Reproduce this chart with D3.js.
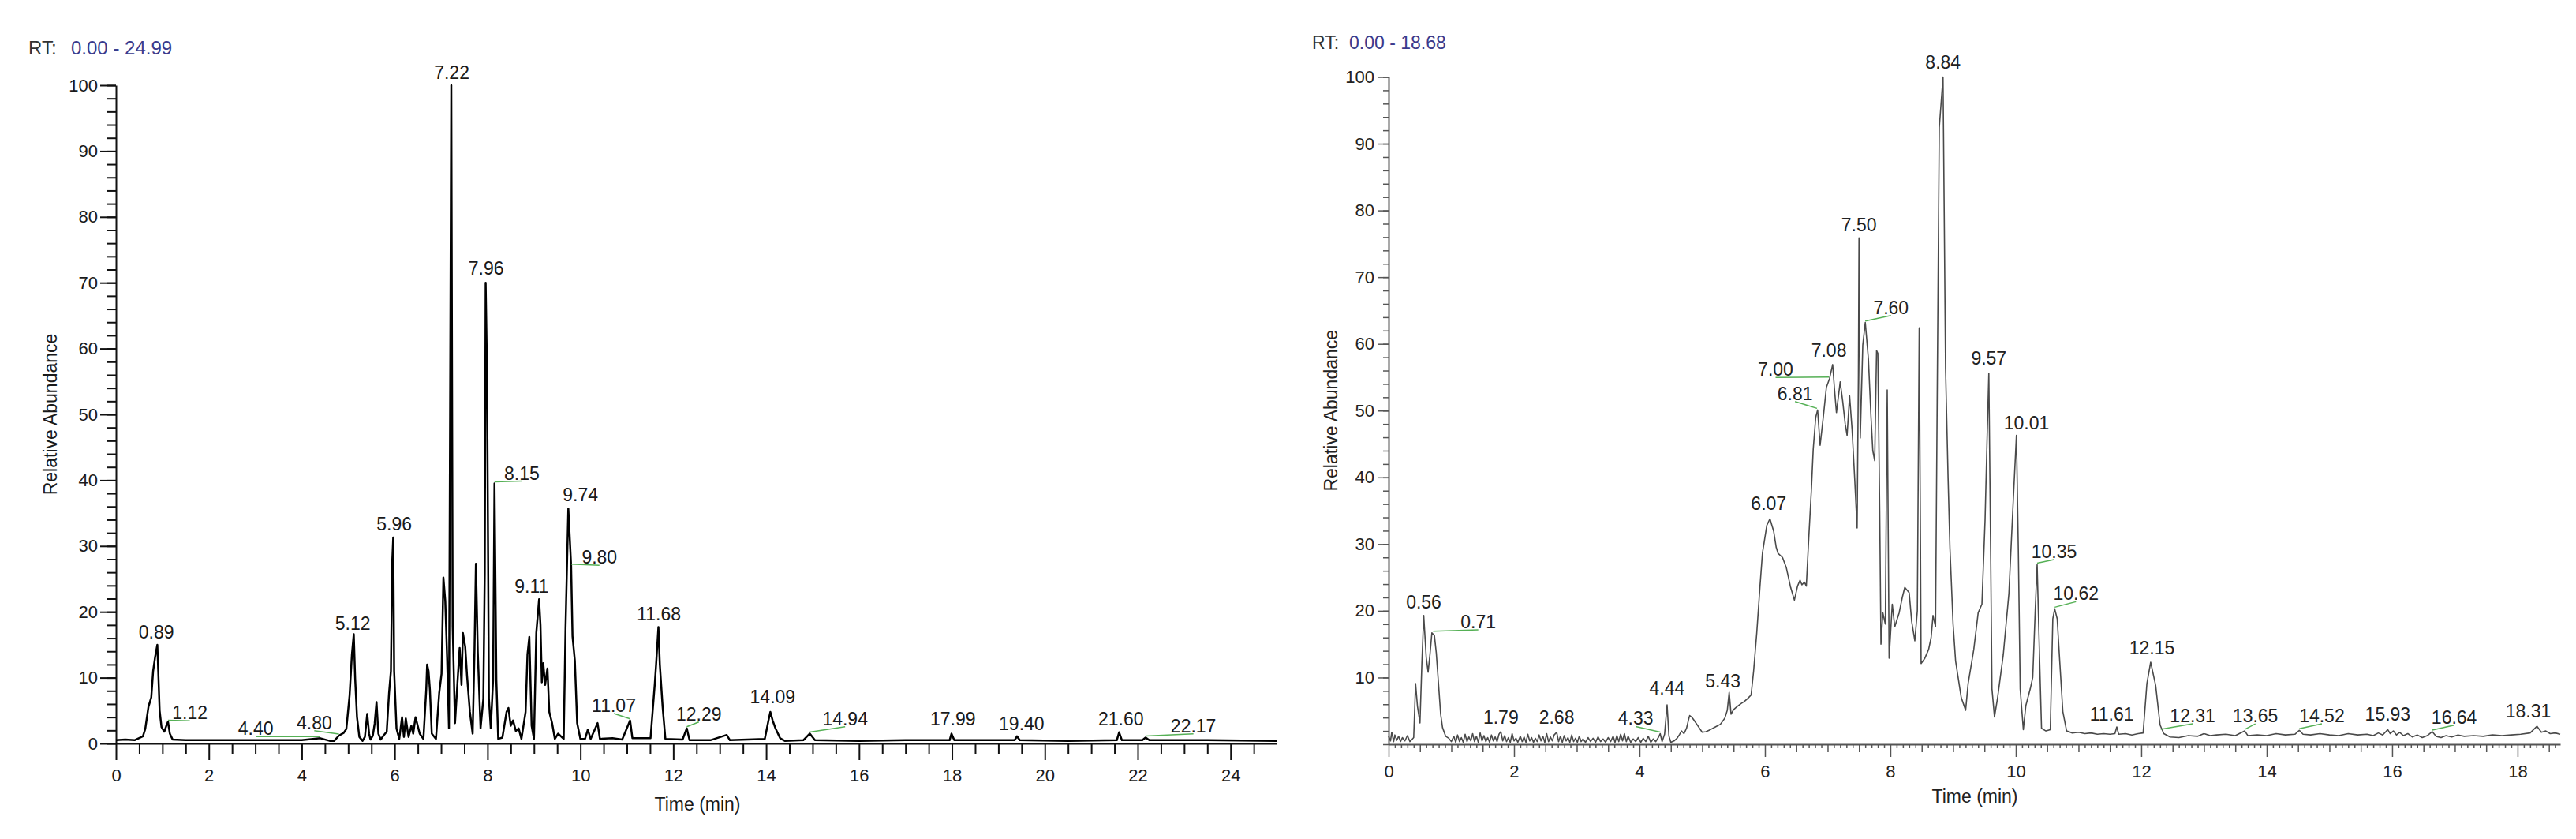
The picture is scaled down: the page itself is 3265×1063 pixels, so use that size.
<!DOCTYPE html>
<html>
<head>
<meta charset="utf-8">
<script src="https://cdn.jsdelivr.net/npm/d3@7"></script>
<style>
  body { margin: 0; background: #ffffff; }
  svg { display: block; }
</style>
</head>
<body>
<svg id="c" width="3265" height="1063"></svg>
<script>
// ---------------- DATA ----------------
// Left chromatogram (RT 0.00 - 24.99)
const leftRange = "0.00 - 24.99";
const leftTime = [0.00,0.20,0.40,0.58,0.63,0.70,0.76,0.80,0.84,0.89,0.91,0.94,0.98,1.04,1.08,1.12,1.16,1.22,1.5,2.0,2.5,3.0,3.5,4.0,4.40,4.6,4.70,4.80,4.90,4.96,5.03,5.08,5.12,5.15,5.19,5.24,5.31,5.36,5.41,5.45,5.48,5.53,5.57,5.61,5.65,5.70,5.76,5.83,5.88,5.92,5.95,5.97,5.99,6.04,6.10,6.16,6.20,6.24,6.30,6.36,6.40,6.45,6.54,6.62,6.68,6.70,6.73,6.76,6.80,6.89,6.96,7.01,7.05,7.09,7.13,7.17,7.22,7.25,7.30,7.35,7.40,7.44,7.47,7.52,7.56,7.62,7.68,7.72,7.75,7.79,7.85,7.91,7.94,7.96,7.99,8.03,8.07,8.12,8.15,8.19,8.23,8.32,8.41,8.45,8.50,8.55,8.61,8.67,8.73,8.82,8.86,8.90,8.95,9.00,9.05,9.11,9.14,9.17,9.20,9.24,9.29,9.33,9.39,9.45,9.52,9.64,9.68,9.74,9.80,9.83,9.88,9.93,10.00,10.10,10.16,10.22,10.37,10.42,10.69,10.90,11.07,11.12,11.51,11.60,11.63,11.68,11.71,11.77,11.83,12.20,12.29,12.35,12.80,13.15,13.22,13.97,14.05,14.09,14.14,14.20,14.30,14.40,14.80,14.94,15.05,16.00,17.00,17.95,17.99,18.05,19.35,19.40,19.46,20.50,21.55,21.60,21.66,22.10,22.17,22.25,23.50,24.99];
const leftAbund = [0.5,0.6,0.5,1.1,2.2,5.6,7.0,11.0,13.0,15.0,11.0,5.0,2.5,1.8,2.6,3.3,1.5,0.6,0.5,0.5,0.5,0.5,0.5,0.5,0.8,0.4,0.4,1.2,1.6,2.2,7.3,13.5,16.6,9.9,4.0,1.0,0.4,1.0,4.5,1.5,0.6,1.2,3.0,6.3,1.5,0.6,1.2,1.8,7.7,11.0,27.9,31.3,11.0,2.3,0.7,4.0,1.0,3.8,1.0,2.7,1.5,4.0,1.5,0.7,8.1,12.0,11.0,8.1,1.5,0.7,7.7,10.6,25.2,21.7,13.0,2.3,100,17.8,3.1,8.9,14.5,8.9,16.8,14.7,10.2,4.8,1.5,14.3,27.3,13.9,2.3,6.8,25.8,70,56,6.8,2.3,9.7,39.5,9.7,0.7,0.9,4.8,5.4,2.7,3.5,1.9,2.3,0.7,4.8,13.5,16.2,2.7,0.7,16.8,21.9,18.0,9.3,12.2,8.9,11.4,4.8,3.1,0.7,1.5,0.7,17.6,35.7,27.0,16.3,12.6,3.1,0.7,0.7,2.1,0.7,3.1,0.7,0.8,0.6,3.5,0.8,0.8,8.9,12.0,17.7,12.0,5.6,0.7,0.6,2.3,0.5,0.5,1.3,0.5,0.7,3.5,4.8,3.5,2.3,0.8,0.4,0.5,1.5,0.5,0.4,0.5,0.5,1.5,0.5,0.5,1.1,0.5,0.4,0.5,1.7,0.5,0.5,0.9,0.5,0.5,0.4];

// Left peak annotations: label, apex time, apex abundance, label time, label abundance, leader line?
const leftPeakText  = ["0.89","1.12","4.40","4.80","5.12","5.96","7.22","7.96","8.15","9.11","9.74","9.80","11.07","11.68","12.29","14.09","14.94","17.99","19.40","21.60","22.17"];
const leftPeakT     = [0.89,1.12,4.40,4.80,5.12,5.97,7.22,7.96,8.15,9.11,9.74,9.80,11.07,11.68,12.29,14.09,14.94,17.99,19.40,21.60,22.17];
const leftPeakV     = [15.0,3.3,0.8,1.2,16.6,31.3,100,70,39.5,21.9,35.7,27.0,3.5,17.7,2.3,4.8,1.5,1.5,1.1,1.7,0.9];
const leftLabelT    = [0.87,1.59,3.01,4.27,5.10,5.99,7.23,7.97,8.74,8.95,10.00,10.41,10.72,11.69,12.55,14.14,15.70,18.02,19.50,21.64,23.20];
const leftLabelV    = [16.0,3.7,1.3,2.2,17.3,32.4,101,71.2,40.1,22.9,36.8,27.3,4.8,18.7,3.5,6.1,2.8,2.7,2.0,2.8,1.7];
const leftLeader    = [false,true,true,true,false,false,false,false,true,false,false,true,true,false,true,false,true,false,false,false,true];

// Right chromatogram (RT 0.00 - 18.68)
const rightRange = "0.00 - 18.68";
const rightTime = [0.00,0.03,0.05,0.08,0.10,0.13,0.16,0.19,0.22,0.26,0.30,0.34,0.38,0.40,0.43,0.46,0.50,0.53,0.56,0.60,0.63,0.66,0.69,0.73,0.76,0.79,0.83,0.86,0.91,0.96,1.00,
  1.04,1.07,1.10,1.13,1.16,1.19,1.22,1.25,1.28,1.31,1.34,1.37,1.40,1.43,1.46,1.49,1.52,1.55,1.58,1.61,1.64,1.67,1.70,1.73,1.76,1.79,1.82,1.85,1.88,1.91,1.94,1.97,2.00,2.03,2.06,2.10,2.13,2.16,2.19,2.22,2.25,2.28,2.31,2.34,2.37,2.40,2.43,2.46,2.49,2.52,2.55,2.58,2.61,2.64,2.68,2.71,2.74,2.77,2.80,2.83,2.86,2.89,2.92,2.95,2.98,3.01,3.04,3.07,3.10,3.14,3.18,3.22,3.26,3.30,3.34,3.38,3.42,3.46,3.50,3.54,3.58,3.61,3.64,3.67,3.70,3.73,3.76,3.79,3.82,3.86,3.90,3.94,3.98,4.02,4.06,4.10,4.14,4.18,4.22,4.26,4.30,4.33,4.36,4.40,4.44,4.47,4.50,4.55,4.60,4.64,4.67,4.71,4.75,4.78,4.80,4.84,4.87,4.90,4.95,5.00,5.06,5.13,5.21,5.29,5.36,5.40,5.43,5.46,5.50,5.55,5.62,5.67,5.73,5.78,5.82,5.87,5.92,5.96,6.03,6.08,6.14,6.18,6.21,6.28,6.34,6.41,6.47,6.52,6.56,6.59,6.63,6.66,6.70,6.74,6.77,6.81,6.84,6.88,6.93,6.98,7.03,7.08,7.11,7.14,7.20,7.24,7.28,7.31,7.35,7.39,7.43,7.47,7.49,7.50,7.52,7.56,7.60,7.65,7.69,7.72,7.75,7.78,7.80,7.83,7.85,7.88,7.92,7.95,7.98,8.03,8.07,8.14,8.19,8.23,8.30,8.34,8.39,8.43,8.46,8.48,8.49,8.55,8.61,8.65,8.68,8.72,8.75,8.78,8.84,8.88,8.92,8.95,9.00,9.04,9.13,9.20,9.24,9.33,9.40,9.46,9.51,9.54,9.57,9.60,9.62,9.66,9.71,9.80,9.89,9.96,10.01,10.04,10.07,10.12,10.16,10.23,10.27,10.31,10.34,10.38,10.41,10.48,10.55,10.59,10.62,10.66,10.70,10.75,10.81,10.90,11.00,11.10,11.20,11.30,11.40,11.50,11.58,11.61,11.64,11.75,11.85,11.95,12.03,12.09,12.15,12.23,12.30,12.36,12.46,12.60,12.75,12.90,13.00,13.10,13.20,13.35,13.50,13.65,13.70,13.85,14.00,14.15,14.30,14.45,14.52,14.58,14.70,14.85,15.00,15.15,15.30,15.45,15.60,15.70,15.78,15.85,15.90,15.93,15.97,16.02,16.07,16.12,16.18,16.25,16.32,16.40,16.48,16.56,16.64,16.70,16.78,16.86,16.95,17.05,17.15,17.30,17.45,17.60,17.75,17.90,18.05,18.20,18.31,18.38,18.45,18.52,18.60,18.68];
const rightAbund = [1.2,0.5,1.8,0.4,1.4,0.6,1.2,0.4,1.0,0.5,1.3,0.4,0.8,1.0,9.1,5.7,3.2,12.0,19.3,13.0,10.8,13.5,16.7,16.3,13.7,9.8,4.5,2.5,1.2,0.9,0.4,
  1.2,0.3,1.4,0.4,1.0,0.3,1.5,0.4,1.1,0.5,1.6,0.4,1.2,0.3,1.7,0.5,1.3,0.4,1.0,0.3,1.4,0.5,1.1,0.4,1.5,1.9,0.5,1.3,0.4,1.0,0.3,1.6,0.5,0.9,0.3,1.2,0.4,1.1,0.3,1.5,0.5,1.0,0.3,0.9,0.4,1.4,0.5,1.2,0.3,1.6,0.4,1.1,0.5,1.4,1.8,0.4,1.2,0.3,1.3,0.5,1.0,0.3,1.4,0.4,0.9,0.3,1.2,0.4,0.8,0.3,1.0,0.4,0.9,0.3,1.1,0.4,0.8,0.3,1.0,0.4,1.2,0.3,1.3,0.4,1.5,0.5,1.6,0.4,1.2,0.3,0.8,0.4,1.0,0.3,0.9,0.4,1.2,0.3,0.8,0.4,1.0,1.6,0.4,1.5,5.9,1.2,0.3,0.5,0.9,1.5,2.0,1.6,2.4,3.6,4.3,4.0,3.6,3.2,2.5,1.8,1.9,2.2,2.6,3.0,3.9,5.1,7.8,4.5,5.2,5.6,6.1,6.4,6.9,7.4,11.0,16.7,23.5,28.6,32.8,33.8,31.9,29.5,28.6,28.0,26.5,23.5,21.6,23.7,24.6,23.9,24.3,23.7,31.1,38.0,44.2,49.0,50.1,44.8,49.0,53.5,54.8,56.9,53.1,49.7,54.3,51.4,48.0,46.3,52.2,47.1,40.0,32.4,55.0,75.9,45.9,59.8,63.2,57.7,49.3,44.0,42.5,59.0,58.6,35.0,15.0,19.7,18.0,53.1,12.9,21.0,17.6,19.7,22.0,23.5,22.7,18.4,15.5,20.0,62.4,30.0,12.1,12.9,14.2,16.0,19.3,17.6,56.0,92.4,100.0,56.4,40.0,29.4,18.0,12.5,7.0,5.1,9.1,14.2,19.7,21.0,33.6,45.0,55.6,27.7,8.3,4.1,7.0,13.4,22.6,36.6,46.3,29.4,8.3,2.2,5.8,8.3,10.0,20.1,26.9,12.5,2.4,2.0,2.2,18.8,20.3,18.8,12.5,4.9,2.0,1.7,1.8,1.6,1.7,1.5,1.6,1.5,1.6,2.6,1.5,1.6,1.4,1.6,1.7,9.1,12.3,8.8,2.9,1.6,1.1,1.0,1.3,1.2,1.6,1.3,1.4,1.5,1.3,2.0,1.3,1.4,1.3,1.6,1.4,1.5,2.1,1.5,1.4,1.6,1.4,1.3,1.6,1.4,1.5,1.3,1.7,1.4,1.9,2.2,1.6,2.0,1.4,1.8,1.3,1.6,1.1,1.4,1.0,1.3,1.9,1.2,1.0,1.3,1.1,1.4,1.2,1.3,1.2,1.4,1.3,1.4,1.5,1.7,2.7,1.8,2.0,1.6,1.7,1.5];

const rightPeakText = ["0.56","0.71","1.79","2.68","4.33","4.44","5.43","6.07","6.81","7.00","7.08","7.50","7.60","8.84","9.57","10.01","10.35","10.62","11.61","12.15","12.31","13.65","14.52","15.93","16.64","18.31"];
const rightPeakT    = [0.56,0.71,1.79,2.68,4.33,4.44,5.43,6.07,6.83,7.02,7.08,7.50,7.60,8.84,9.57,10.01,10.34,10.62,11.61,12.15,12.31,13.65,14.52,15.93,16.64,18.31];
const rightPeakV    = [19.3,16.7,1.9,1.8,1.6,5.9,7.8,33.8,50.1,54.8,56.9,75.9,63.2,100,55.6,46.3,26.9,20.3,2.6,12.3,2.0,2.0,2.1,2.2,1.9,2.7];
const rightLabelT   = [0.56,1.43,1.79,2.68,3.94,4.44,5.33,6.06,6.48,6.17,7.02,7.50,8.01,8.84,9.57,10.17,10.61,10.96,11.53,12.17,12.82,13.82,14.88,15.93,16.99,18.17];
const rightLabelV   = [20.3,17.4,3.1,3.1,2.9,7.4,8.5,35.1,51.6,55.2,58.1,76.9,64.5,101.2,56.9,47.2,27.9,21.6,3.6,13.5,3.3,3.3,3.3,3.6,3.1,4.0];
const rightLeader   = [false,true,false,false,true,false,false,false,true,true,false,false,true,false,false,false,true,true,false,false,true,true,true,false,true,false];

const yTitle = "Relative Abundance";
const xTitle = "Time (min)";
const leftXTicks  = [0,2,4,6,8,10,12,14,16,18,20,22,24];
const rightXTicks = [0,2,4,6,8,10,12,14,16,18];
const leftYTicks  = [0,10,20,30,40,50,60,70,80,90,100];
const rightYTicks = [10,20,30,40,50,60,70,80,90,100];

// ---------------- DRAWING ----------------
const FONT = "'Liberation Sans', Arial, Helvetica, sans-serif";
const svg = d3.select("#c");

function drawChart(c) {
  const x = d3.scaleLinear().domain(c.xDomain).range(c.xRange);
  const y = d3.scaleLinear().domain([0, 100]).range(c.yRange);
  const g = svg.append("g");
  const base = c.yRange[0];

  // RT header
  g.append("text").attr("x", c.rtX).attr("y", c.rtY)
    .attr("font-family", FONT).attr("font-size", c.rtSize).attr("fill", "#333")
    .text("RT:");
  g.append("text").attr("x", c.rtX2).attr("y", c.rtY)
    .attr("font-family", FONT).attr("font-size", c.rtSize).attr("fill", "#3a3a8c")
    .text(c.range);

  // minor x ticks
  g.append("g").attr("transform", `translate(0,${base})`)
    .call(d3.axisBottom(x).tickValues(c.xMinor).tickFormat("").tickSize(c.xMinorLen).tickSizeOuter(0))
    .call(s => s.select(".domain").remove())
    .call(s => s.selectAll("line").attr("stroke", c.axisColor).attr("stroke-width", c.tickW));
  if (c.xMid) {
    g.append("g").attr("transform", `translate(0,${base})`)
      .call(d3.axisBottom(x).tickValues(c.xMid).tickFormat("").tickSize(c.xMidLen).tickSizeOuter(0))
      .call(s => s.select(".domain").remove())
      .call(s => s.selectAll("line").attr("stroke", c.axisColor).attr("stroke-width", c.tickW));
  }
  // major x axis
  g.append("g").attr("transform", `translate(0,${base})`)
    .call(d3.axisBottom(x).tickValues(c.xTicks).tickFormat(d3.format("d")).tickSize(c.xMajorLen).tickPadding(c.xPad).tickSizeOuter(0))
    .call(s => s.select(".domain").attr("stroke", c.axisColor).attr("stroke-width", c.axisW))
    .call(s => s.selectAll("line").attr("stroke", c.axisColor).attr("stroke-width", c.tickW))
    .call(s => s.selectAll("text").attr("font-family", FONT).attr("font-size", c.tickSize).attr("fill", c.textColor));

  // y minor ticks
  g.append("g").attr("transform", `translate(${c.xRange[0]},0)`)
    .call(d3.axisLeft(y).tickValues(d3.range(0, 51).map(i => i * 2)).tickFormat("").tickSize(c.yMinorLen).tickSizeOuter(0))
    .call(s => s.select(".domain").remove())
    .call(s => s.selectAll("line").attr("stroke", c.axisColor).attr("stroke-width", c.tickW));
  // y major
  g.append("g").attr("transform", `translate(${c.xRange[0]},0)`)
    .call(d3.axisLeft(y).tickValues(c.yTicks).tickFormat(d3.format("d")).tickSize(c.yMajorLen).tickPadding(c.yPad).tickSizeOuter(0))
    .call(s => s.select(".domain").attr("stroke", c.axisColor).attr("stroke-width", c.axisW))
    .call(s => s.selectAll("line").attr("stroke", c.axisColor).attr("stroke-width", c.tickW))
    .call(s => s.selectAll("text").attr("font-family", FONT).attr("font-size", c.tickSize).attr("fill", c.textColor));

  // axis titles
  g.append("text")
    .attr("transform", `translate(${c.yTitleX},${(c.yRange[0] + c.yRange[1]) / 2}) rotate(-90)`)
    .attr("text-anchor", "middle").attr("dy", "0.35em")
    .attr("font-family", FONT).attr("font-size", c.titleSize).attr("fill", c.textColor)
    .text(yTitle);
  g.append("text").attr("x", c.xTitleX).attr("y", c.xTitleY)
    .attr("text-anchor", "middle")
    .attr("font-family", FONT).attr("font-size", c.titleSize).attr("fill", c.textColor)
    .text(xTitle);

  // trace
  const line = d3.line().x(i => x(c.time[i])).y(i => y(c.abund[i]));
  g.append("path").attr("d", line(d3.range(c.time.length)))
    .attr("fill", "none").attr("stroke", c.traceColor).attr("stroke-width", c.traceW)
    .attr("stroke-linejoin", "round");

  // leader lines
  c.peakText.forEach((t, i) => {
    if (!c.leader[i]) return;
    g.append("line")
      .attr("x1", x(c.peakT[i])).attr("y1", y(c.peakV[i]) - 2)
      .attr("x2", x(c.labelT[i])).attr("y2", y(c.labelV[i]) + 2)
      .attr("stroke", "#55b055").attr("stroke-width", 1.5);
  });
  // labels
  c.peakText.forEach((t, i) => {
    g.append("text")
      .attr("x", x(c.labelT[i])).attr("y", y(c.labelV[i]))
      .attr("text-anchor", "middle")
      .attr("font-family", FONT).attr("font-size", c.labelSize).attr("fill", c.textColor)
      .text(t);
  });
}

drawChart({
  range: leftRange, time: leftTime, abund: leftAbund,
  peakText: leftPeakText, peakT: leftPeakT, peakV: leftPeakV, labelT: leftLabelT, labelV: leftLabelV, leader: leftLeader,
  xDomain: [0, 24.99], xRange: [147, 1618], yRange: [942, 108],
  xTicks: leftXTicks, xMinor: d3.range(0, 50).map(i => i * 0.5).filter(v => v % 2 !== 0),
  xMid: null, yTicks: leftYTicks,
  xMajorLen: 21, xMinorLen: 13, xPad: 11, yMajorLen: 20, yMinorLen: 12, yPad: 3,
  rtX: 36, rtX2: 90, rtY: 69, rtSize: 24,
  yTitleX: 64, xTitleX: 884, xTitleY: 1027,
  axisColor: "#111", axisW: 2, tickW: 2, textColor: "#1a1a1a",
  traceColor: "#000", traceW: 2.5,
  tickSize: 22, labelSize: 23, titleSize: 23
});

drawChart({
  range: rightRange, time: rightTime, abund: rightAbund,
  peakText: rightPeakText, peakT: rightPeakT, peakV: rightPeakV, labelT: rightLabelT, labelV: rightLabelV, leader: rightLeader,
  xDomain: [0, 18.68], xRange: [1760, 3245], yRange: [943, 97.5],
  xTicks: rightXTicks,
  xMinor: d3.range(0, 187).map(i => i / 10).filter(v => Math.abs(v * 2 - Math.round(v * 2)) > 1e-6),
  xMid: d3.range(0, 38).map(i => i * 0.5).filter(v => v % 2 !== 0),
  yTicks: rightYTicks,
  xMajorLen: 16, xMinorLen: 5, xMidLen: 10, xPad: 10, yMajorLen: 14, yMinorLen: 7, yPad: 4,
  rtX: 1663, rtX2: 1710, rtY: 62, rtSize: 23,
  yTitleX: 1687, xTitleX: 2503, xTitleY: 1017,
  axisColor: "#555", axisW: 2, tickW: 1.5, textColor: "#222",
  traceColor: "#4a4a4a", traceW: 1.6,
  tickSize: 22, labelSize: 23, titleSize: 23
});
</script>
</body>
</html>
